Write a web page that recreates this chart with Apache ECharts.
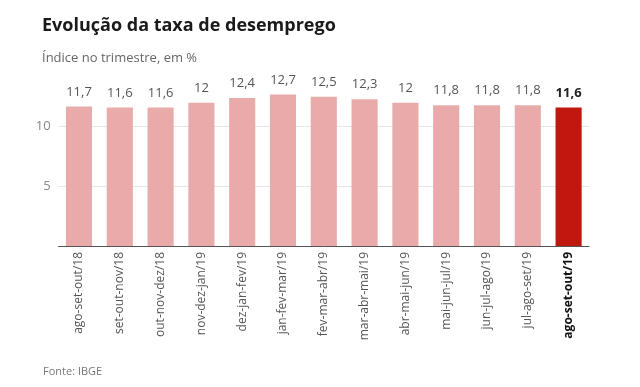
<!DOCTYPE html>
<html><head><meta charset="utf-8">
<script src="https://cdn.jsdelivr.net/npm/echarts@6/dist/echarts.min.js"></script>
<style>html,body{margin:0;padding:0;background:#fff}#c{width:640px;height:387px}</style>
</head><body><div id="c"></div>
<script>
const categories = ["ago-set-out/18","set-out-nov/18","out-nov-dez/18","nov-dez-jan/19","dez-jan-fev/19","jan-fev-mar/19","fev-mar-abr/19","mar-abr-mai/19","abr-mai-jun/19","mai-jun-jul/19","jun-jul-ago/19","jul-ago-set/19","ago-set-out/19"];
const values = [11.7,11.6,11.6,12,12.4,12.7,12.5,12.3,12,11.8,11.8,11.8,11.6];
const yTicks = [0,5,10];
const last = values.length - 1;
const fmt = v => String(v).replace('.', ',');
const FONT = '"Open Sans", sans-serif';
const chart = echarts.init(document.getElementById('c'), null, {renderer:'canvas'});
chart.setOption({
  animation:false,
  textStyle:{fontFamily:FONT},
  title:[
    {text:'Evolução da taxa de desemprego', left:37, top:12, textStyle:{fontFamily:FONT, fontSize:18, fontWeight:700, color:'#1a1a1a'}},
    {text:'Índice no trimestre, em %', left:37, top:47, textStyle:{fontFamily:FONT, fontSize:13, fontWeight:400, color:'#666'}},
    {text:'Fonte: IBGE', left:38, top:361, textStyle:{fontFamily:FONT, fontSize:11, fontWeight:400, color:'#777'}}
  ],
  grid:{left:58.6, right:51, top:67, bottom:141},
  xAxis:{type:'category', data:categories,
    axisLine:{lineStyle:{color:'#555', width:1}}, axisTick:{show:false},
    axisLabel:{rotate:90, margin:6, fontSize:12, color:'#555', fontFamily:FONT,
      formatter:(v,i)=> i===last ? '{b|'+v+'}' : v,
      rich:{b:{fontWeight:700, color:'#111', fontSize:12, fontFamily:FONT}}}},
  yAxis:{type:'value', min:yTicks[0], max:15, interval:5,
    axisLine:{show:false}, axisTick:{show:false},
    axisLabel:{fontSize:13, color:'#888', margin:8, fontFamily:FONT,
      formatter:v=> yTicks.includes(v) && v!==0 ? String(v) : ''},
    splitLine:{lineStyle:{color:['rgba(0,0,0,0)','#e6e6e6','#e6e6e6','rgba(0,0,0,0)'], width:1}}},
  series:[{type:'bar', barWidth:'64%',
    data: values.map((v,i)=>({value:v, itemStyle:{color: i===last ? '#c0170e' : '#e8abaa'},
      label:{fontWeight: i===last?700:400, color: i===last?'#222':'#555'}})),
    label:{show:true, position:'top', distance:8, fontSize:13, fontFamily:FONT, formatter:p=>fmt(p.value)}
  }]
});
</script></body></html>
